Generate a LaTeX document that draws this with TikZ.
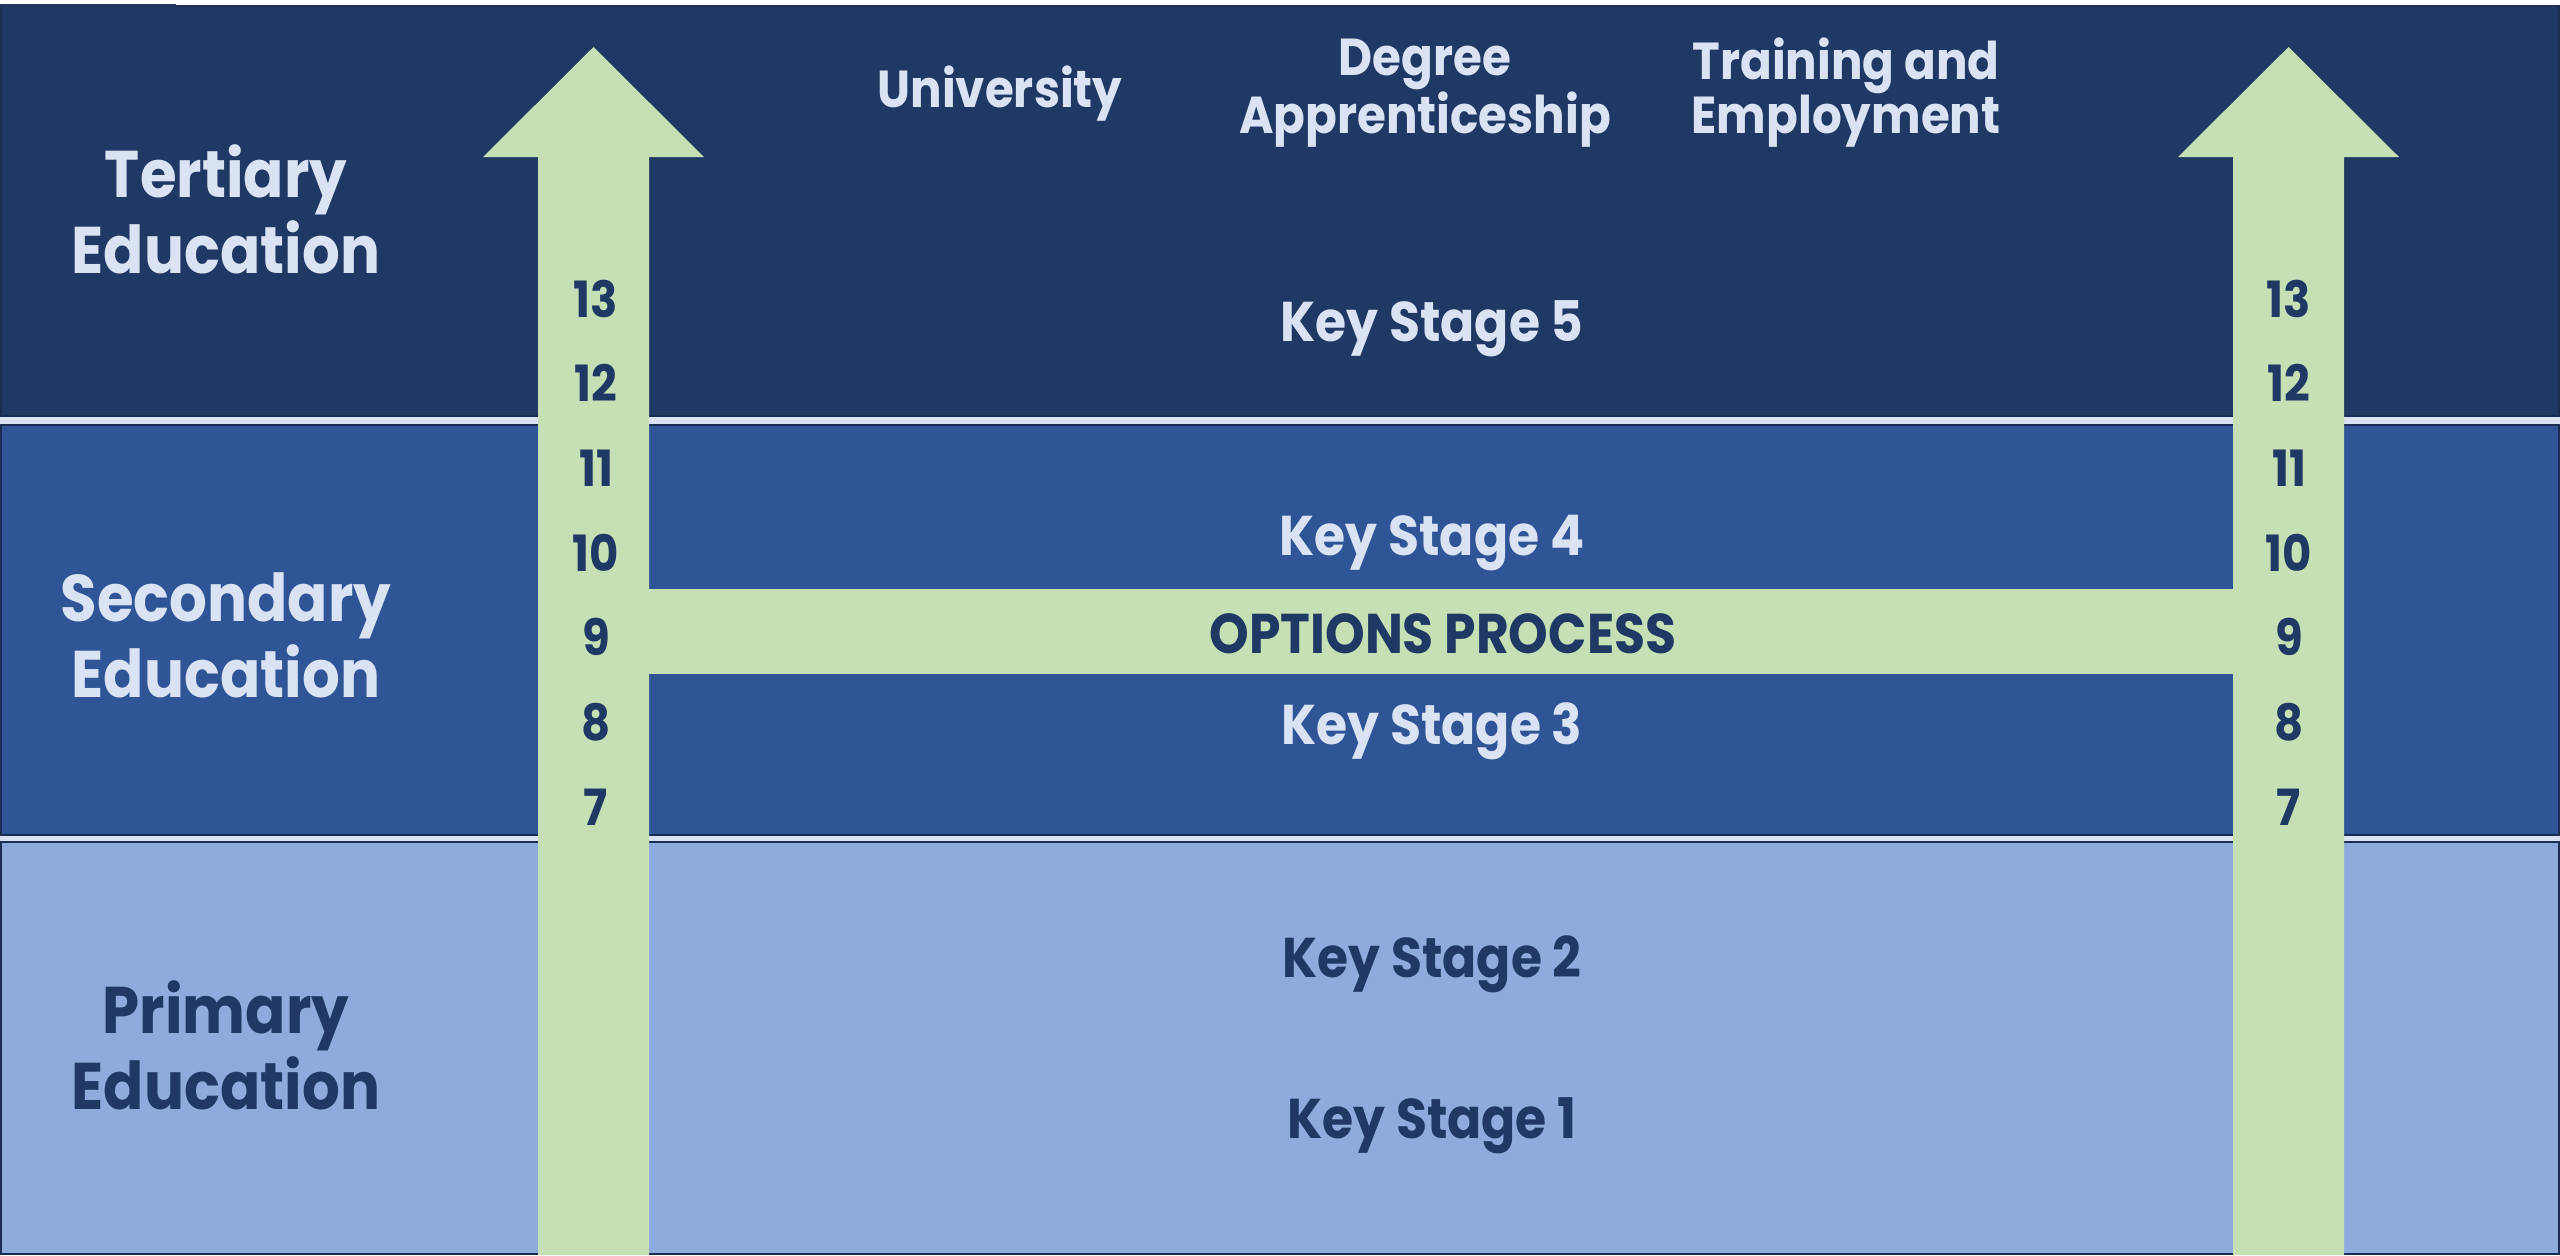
\documentclass[tikz,border=0pt]{standalone}
\usepackage{fontspec}
\setmainfont{Poppins}[FakeStretch=0.9]
\definecolor{tert}{RGB}{32,56,100}
\definecolor{sec}{RGB}{47,85,151}
\definecolor{prim}{RGB}{143,170,220}
\definecolor{arrowgreen}{RGB}{197,224,180}
\definecolor{paletext}{RGB}{218,227,243}
\definecolor{darktext}{RGB}{31,56,100}
\definecolor{bandline}{RGB}{26,45,82}
\tikzset{
  bandbox/.style={draw=bandline, line width=1pt},
  lightlbl/.style={text=paletext, inner sep=0pt, anchor=base},
  darklbl/.style={text=darktext, inner sep=0pt, anchor=base},
  sidelbl/.style={font=\fontsize{33}{38}\selectfont\bfseries, align=center},
  toplbl/.style={font=\fontsize{26}{27}\selectfont\bfseries, align=center},
  kslbl/.style={font=\fontsize{28}{30}\selectfont\bfseries},
  yearlbl/.style={font=\fontsize{25}{26}\selectfont\bfseries, darklbl},
  greenfill/.style={fill=arrowgreen}
}
\begin{document}
\begin{tikzpicture}[x=0.5pt,y=-0.5pt]
\useasboundingbox (0,0) rectangle (2560,1255);
\fill[white] (0,0) rectangle (2560,1255);
% light strips between bands
\fill[paletext] (0,405) rectangle (2560,436);
\fill[paletext] (0,825) rectangle (2560,852);
% bands
\draw[bandbox, fill=tert] (1,6) rectangle (2559,416);
\fill[tert] (0,4) rectangle (176,7);
\draw[bandbox, fill=sec] (1,425) rectangle (2559,835);
\draw[bandbox, fill=prim] (1,842) rectangle (2559,1254);
% arrows and options bar
\fill[greenfill] (538,1255) -- (538,157) -- (483,157) -- (593.5,47) -- (704,157) -- (649,157) -- (649,1255) -- cycle;
\fill[greenfill] (2233,1255) -- (2233,157) -- (2178,157) -- (2288.5,47) -- (2399,157) -- (2344,157) -- (2344,1255) -- cycle;
\fill[greenfill] (648,589) rectangle (2234,674);
% side labels (anchor base = last line baseline)
\node[lightlbl, sidelbl] (tertiary) at (226,273) {Tertiary\\Education};
\node[lightlbl, sidelbl] (secondary) at (226,697) {Secondary\\Education};
\node[darklbl, sidelbl] (primary) at (226,1109) {Primary\\Education};
% top labels
\node[lightlbl, toplbl] (university) at (1000,107) {University};
\node[lightlbl, toplbl] (degree) at (1425,133) {Degree\\Apprenticeship};
\node[lightlbl, toplbl] (training) at (1846,133) {Training and\\Employment};
% key stages
\node[lightlbl, kslbl] (ks5) at (1432,341) {Key Stage 5};
\node[lightlbl, kslbl] (ks4) at (1432,555.5) {Key Stage 4};
\node[darklbl, kslbl] (options) at (1443,653) {OPTIONS PROCESS};
\node[lightlbl, kslbl] (ks3) at (1432,744.5) {Key Stage 3};
\node[darklbl, kslbl] (ks2) at (1432,977.5) {Key Stage 2};
\node[darklbl, kslbl] (ks1) at (1432,1138) {Key Stage 1};
% year numbers
\foreach \yr [count=\i from 0] in {13,12,11,10,9,8,7} {
  \node[yearlbl] (yl\yr) at (596,317+84.7*\i) {\yr};
  \node[yearlbl] (yr\yr) at (2289,317+84.7*\i) {\yr};
}
\end{tikzpicture}
\end{document}
